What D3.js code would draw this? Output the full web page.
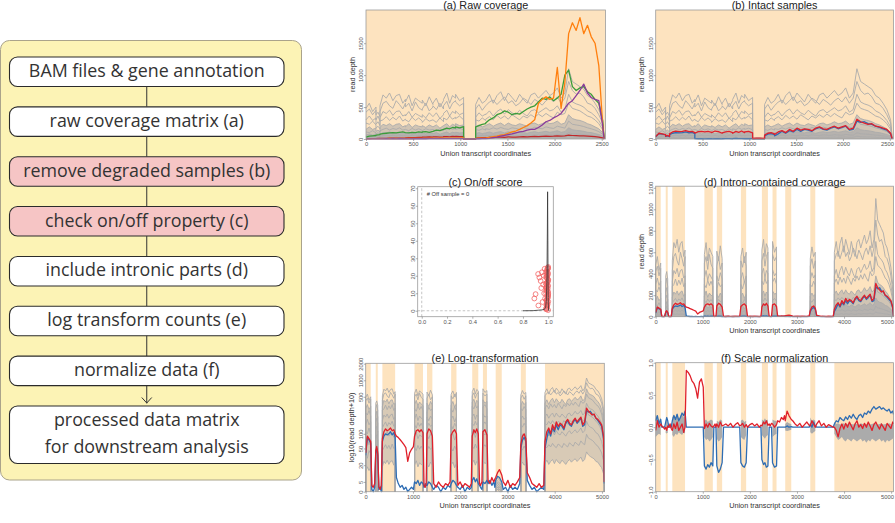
<!DOCTYPE html>
<html>
<head>
<meta charset="utf-8">
<script src="https://cdn.jsdelivr.net/npm/d3@7/dist/d3.min.js"></script>
<style>
body { margin: 0; background: #fff; }
svg { display: block; }
</style>
</head>
<body>
<svg id="fig" width="895" height="523"></svg>
<script>
// ---------- workflow (left box) ----------
const steps = [
  "BAM files & gene annotation",
  "raw coverage matrix (a)",
  "remove degraded samples (b)",
  "check on/off property (c)",
  "include intronic parts (d)",
  "log transform counts (e)",
  "normalize data (f)",
  ["processed data matrix", "for downstream analysis"]
];
const stepHighlight = [0, 0, 1, 1, 0, 0, 0, 0];

// ---------- gene model: exon bands in union transcript coordinates ----------
const bandStart = [0, 213, 353, 1034, 1298, 1809, 2255, 2481, 2751, 3283, 3794];
const bandEnd   = [106, 255, 623, 1213, 1411, 1921, 2383, 2566, 2879, 3389, 5050];

// sampled positions inside exons (union coords)
const exonX = [0, 35, 70, 106,
  213, 234, 255,
  353, 385, 420, 455, 490, 525, 560, 595, 623,
  1034, 1070, 1105, 1140, 1175, 1213,
  1298, 1335, 1372, 1411,
  1809, 1845, 1883, 1921,
  2255, 2290, 2320, 2350, 2383,
  2481, 2523, 2566,
  2751, 2790, 2830, 2879,
  3283, 3318, 3353, 3389,
  3794, 3834, 3874, 3914, 3954, 3994, 4034, 4074, 4114, 4154,
  4194, 4234, 4274, 4314, 4354, 4394, 4434, 4474, 4514, 4554,
  4594, 4634, 4674, 4714, 4754, 4794, 4834, 4874, 4914, 4954,
  4994, 5034, 5050];

// sampled positions inside introns (union coords)
const intronX = [130, 160, 190,
  280, 305, 330,
  650, 690, 730, 770, 810, 850, 890, 930, 970, 1010,
  1235, 1260, 1280,
  1440, 1490, 1540, 1590, 1640, 1690, 1740, 1785,
  1950, 2000, 2050, 2100, 2150, 2200, 2235,
  2410, 2430, 2460,
  2590, 2630, 2670, 2710, 2735,
  2910, 2960, 3010, 3060, 3110, 3160, 3210, 3260,
  3420, 3470, 3520, 3570, 3620, 3670, 3720, 3770];

// ---------- read depth of the bulk (gray) samples, at exonX ----------
const grayS1 = [480, 560, 430, 500, 380, 420, 350,
  520, 690, 640, 720, 600, 680, 700, 560, 620,
  580, 690, 520, 640, 600, 560, 610, 520, 660, 540, 560, 640, 500, 600,
  620, 720, 560, 680, 640, 700, 600, 650, 5, 8, 6, 4, 540, 650, 560, 600,
  600, 700, 560, 680, 740, 600, 720, 650, 580, 700,
  620, 560, 690, 720, 640, 700, 760, 680, 720, 800,
  640, 720, 1100, 900, 860, 820, 780, 680, 640, 560, 460, 300, 30];
const grayS2 = [420, 470, 380, 450, 300, 360, 280,
  430, 560, 590, 520, 480, 600, 540, 470, 560,
  500, 560, 440, 580, 490, 450, 470, 560, 440, 500, 520, 460, 560, 470,
  520, 590, 470, 560, 600, 580, 520, 560, 4, 6, 5, 3, 470, 540, 450, 520,
  520, 580, 610, 540, 600, 660, 560, 600, 520, 560,
  640, 600, 540, 620, 580, 530, 600, 640, 580, 660,
  560, 640, 900, 760, 700, 720, 660, 560, 540, 480, 380, 250, 20];
const grayS3 = [300, 360, 290, 330, 230, 270, 210,
  330, 430, 400, 450, 370, 430, 440, 360, 380,
  360, 430, 340, 400, 370, 340, 380, 330, 410, 350, 350, 410, 320, 380,
  400, 450, 360, 430, 400, 440, 380, 410, 3, 5, 4, 3, 340, 410, 360, 390,
  380, 440, 360, 430, 470, 390, 460, 410, 380, 450,
  400, 360, 440, 460, 410, 450, 490, 440, 460, 520,
  420, 460, 700, 580, 550, 530, 500, 440, 410, 360, 290, 190, 15];
const grayS4 = [250, 230, 280, 220, 170, 200, 160,
  280, 300, 350, 290, 340, 300, 360, 280, 310,
  300, 270, 340, 290, 330, 280, 260, 320, 280, 300, 300, 260, 330, 270,
  330, 300, 360, 310, 340, 320, 360, 300, 3, 4, 3, 2, 300, 280, 330, 290,
  310, 350, 300, 370, 320, 360, 310, 380, 340, 300,
  360, 330, 380, 340, 390, 350, 400, 360, 330, 420,
  380, 400, 560, 480, 460, 440, 400, 360, 340, 300, 240, 150, 10];
const grayS5 = [150, 190, 150, 170, 120, 140, 110,
  180, 230, 210, 240, 200, 230, 240, 190, 210,
  190, 240, 180, 220, 200, 190, 210, 180, 220, 190, 190, 220, 170, 210,
  210, 240, 190, 230, 210, 240, 210, 220, 2, 3, 2, 2, 190, 220, 190, 210,
  210, 240, 200, 230, 250, 210, 250, 220, 210, 240,
  220, 200, 240, 250, 220, 240, 270, 240, 250, 280,
  230, 250, 380, 320, 300, 290, 270, 240, 220, 190, 160, 100, 8];
const grayS6 = [110, 100, 130, 95, 80, 95, 75,
  130, 150, 170, 140, 165, 150, 175, 140, 150,
  150, 130, 165, 140, 160, 135, 130, 160, 140, 150, 150, 125, 160, 135,
  160, 145, 175, 150, 165, 150, 170, 145, 2, 2, 2, 1, 150, 135, 160, 140,
  160, 150, 175, 155, 180, 160, 150, 175, 165, 150,
  180, 165, 155, 185, 170, 160, 190, 175, 165, 200,
  185, 170, 280, 230, 220, 210, 195, 175, 160, 140, 115, 75, 6];
const grayS7 = [60, 80, 60, 75, 50, 60, 45,
  75, 100, 95, 110, 90, 100, 105, 85, 95,
  85, 105, 80, 95, 90, 85, 95, 80, 100, 85, 85, 100, 75, 95,
  95, 110, 85, 105, 95, 105, 95, 100, 1, 2, 1, 1, 85, 100, 85, 95,
  95, 110, 90, 105, 115, 95, 115, 100, 95, 110,
  100, 90, 105, 115, 100, 110, 120, 105, 115, 130,
  105, 115, 175, 145, 135, 130, 120, 105, 100, 85, 70, 45, 4];
const grayS8 = [35, 30, 45, 38, 25, 32, 22,
  45, 52, 60, 50, 58, 48, 62, 50, 54,
  52, 45, 58, 48, 56, 46, 45, 55, 48, 52, 52, 44, 56, 46,
  55, 50, 62, 52, 58, 52, 60, 50, 1, 1, 1, 0, 52, 46, 56, 48,
  56, 52, 60, 54, 64, 56, 52, 62, 58, 52,
  64, 58, 54, 66, 60, 56, 68, 62, 58, 72,
  64, 60, 98, 82, 78, 74, 68, 60, 56, 48, 40, 26, 2];
const grayS9 = [12, 18, 14, 17, 10, 14, 9,
  18, 25, 22, 27, 21, 25, 26, 20, 22,
  20, 26, 18, 23, 21, 20, 22, 18, 24, 20, 20, 24, 17, 22,
  22, 27, 20, 25, 22, 26, 22, 24, 0, 1, 0, 0, 20, 24, 20, 22,
  22, 27, 21, 25, 28, 22, 28, 24, 22, 27,
  24, 21, 25, 28, 24, 27, 29, 25, 28, 32,
  25, 28, 42, 36, 33, 31, 29, 25, 24, 20, 17, 11, 1];

// ---------- degraded samples shown in (a), at exonX ----------
const greenDeg = [30, 45, 50, 55, 60, 65, 70,
  75, 85, 90, 95, 100, 95, 105, 110, 100,
  100, 95, 105, 100, 110, 105, 110, 115, 105, 120, 120, 140, 130, 150,
  150, 170, 160, 180, 175, 190, 175, 195, 0, 0, 0, 0, 190, 210, 230, 240,
  250, 300, 330, 380, 400, 440, 420, 380, 400, 390,
  430, 470, 500, 520, 580, 640, 620, 660, 600, 640,
  700, 1000, 1080, 820, 760, 800, 820, 740, 700, 620, 560, 300, 10];
const orangeDeg = [5, 5, 6, 5, 6, 5, 6,
  6, 7, 6, 8, 7, 8, 7, 8, 8,
  8, 9, 8, 10, 9, 10, 10, 11, 10, 12, 12, 11, 13, 12,
  13, 14, 12, 15, 14, 15, 14, 16, 0, 0, 0, 0, 10, 12, 14, 15,
  15, 25, 35, 45, 60, 70, 90, 110, 125, 150,
  180, 210, 250, 300, 560, 620, 660, 620, 640, 1120,
  480, 880, 1650, 1820, 1700, 1900, 1650, 1780, 1600, 1500, 1150, 250, 0];
const purpleDeg = [2, 2, 3, 2, 3, 2, 3,
  3, 3, 4, 3, 4, 3, 4, 4, 3,
  4, 3, 4, 5, 4, 5, 5, 4, 5, 6, 5, 6, 5, 6,
  6, 5, 7, 6, 7, 7, 6, 7, 0, 0, 0, 0, 3, 4, 5, 5,
  5, 10, 20, 30, 45, 55, 70, 80, 95, 110,
  120, 140, 150, 150, 180, 220, 270, 290, 330, 360,
  400, 480, 560, 600, 680, 760, 860, 720, 650, 620, 600, 220, 0];
const redDeg = [5, 5, 8, 8, 8, 10, 10,
  10, 12, 12, 14, 14, 15, 15, 16, 16,
  18, 20, 22, 20, 24, 26, 28, 30, 32, 30, 32, 35, 30, 34,
  36, 38, 35, 40, 38, 40, 36, 38, 0, 0, 0, 0, 15, 18, 20, 22,
  20, 25, 22, 28, 30, 26, 32, 30, 28, 34,
  36, 32, 38, 40, 36, 42, 45, 40, 44, 50,
  46, 48, 60, 55, 52, 50, 48, 44, 40, 36, 30, 18, 0];

// ---------- two highlighted intact samples (red / blue) ----------
const redExon = [40, 90, 80, 70, 45, 55, 40,
  80, 110, 125, 115, 120, 130, 115, 120, 100,
  90, 115, 120, 110, 120, 105, 100, 125, 115, 90, 95, 110, 120, 100,
  90, 120, 105, 125, 100, 110, 120, 95, 8, 12, 15, 10, 60, 90, 100, 80,
  70, 110, 130, 100, 150, 120, 170, 140, 160, 150,
  130, 170, 190, 160, 150, 180, 200, 170, 190, 210,
  150, 170, 310, 270, 250, 230, 240, 200, 190, 170, 150, 90, 5];
const blueExon = [35, 85, 75, 65, 40, 50, 35,
  70, 90, 100, 95, 100, 110, 95, 105, 85,
  5, 4, 6, 3, 5, 4, 3, 5, 4, 2, 4, 6, 5, 3,
  6, 8, 5, 7, 4, 5, 4, 6, 6, 9, 8, 5, 50, 75, 85, 70,
  50, 80, 120, 90, 130, 110, 150, 120, 150, 140,
  120, 160, 180, 150, 140, 170, 190, 160, 180, 200,
  140, 150, 280, 260, 270, 240, 230, 200, 180, 160, 140, 80, 4];
const redIntron = [3, 2, 4, 2, 1, 3,
  90, 84, 76, 68, 60, 52, 25, 40, 48, 55,
  3, 2, 4, 4, 2, 5, 3, 2, 4, 3, 5,
  3, 5, 2, 4, 3, 2, 4, 4, 3, 5,
  6, 4, 8, 5, 7, 5, 3, 6, 2, 4, 3, 5, 8,
  12, 8, 4, 3, 2, 4, 2, 3];
const blueIntron = [1, 0, 2, 1, 2, 0,
  8, 4, 2, 3, 1, 2, 0, 1, 2, 1,
  2, 4, 3, 1, 3, 2, 0, 2, 1, 3, 2,
  2, 1, 3, 0, 2, 1, 2, 3, 2, 1,
  4, 6, 3, 5, 2, 1, 2, 0, 3, 1, 2, 1, 4,
  6, 3, 1, 2, 0, 1, 2, 1];

// ---------- (f) scale-normalized values ----------
const normRedExon = [-0.05, 0.1, 0.0, 0.05, 0.0, -0.05, 0.02,
  -0.05, 0.05, -0.02, 0.08, -0.05, 0.0, 0.05, -0.08, 0.0,
  -0.02, 0.05, 0.0, 0.06, 0.02, 0.0, 0.05, 0.0, 0.08, 0.02, 0.03, 0.06, 0.0, 0.04,
  0.02, 0.08, 0.05, 0.1, 0.03, 0.05, 0.0, 0.04, 0.1, 0.25, 0.18, 0.12, 0.02, 0.1, 0.05, 0.0,
  0.0, -0.05, -0.15, -0.02, 0.05, -0.03, 0.06, 0.0, 0.08, 0.02,
  -0.04, 0.05, 0.1, 0.0, 0.04, -0.02, 0.06, 0.0, 0.08, 0.02,
  -0.05, 0.04, 0.08, 0.02, -0.03, 0.05, 0.0, -0.05, 0.06, 0.02, -0.02, 0.08, 0.05];
const normBlueExon = [0.1, 0.18, 0.05, 0.12, 0.08, 0.15, 0.1,
  0.1, 0.18, 0.12, 0.2, 0.1, 0.15, 0.22, 0.18, 0.25,
  -0.6, -0.65, -0.58, -0.62, -0.55, -0.6, -0.6, -0.7, -0.65, -0.55, -0.55, -0.6, -0.62, -0.55,
  -0.5, -0.58, -0.55, -0.62, -0.6, -0.55, -0.62, -0.6, 0.0, 0.02, 0.0, 0.01, 0.05, 0.0, 0.08, 0.02,
  0.05, 0.1, 0.08, 0.15, 0.12, 0.1, 0.16, 0.12, 0.18, 0.14,
  0.2, 0.15, 0.12, 0.18, 0.2, 0.15, 0.22, 0.2, 0.25, 0.22,
  0.28, 0.32, 0.28, 0.3, 0.32, 0.28, 0.3, 0.27, 0.25, 0.28, 0.22, 0.25, 0.2];
const normGrayHi = [0.2, 0.15, 0.1, 0.15, 0.1, 0.12, 0.08,
  0.15, 0.2, 0.15, 0.22, 0.12, 0.18, 0.2, 0.15, 0.18,
  0.1, 0.12, 0.08, 0.1, 0.12, 0.1, 0.1, 0.08, 0.12, 0.1, 0.1, 0.12, 0.08, 0.1,
  0.12, 0.1, 0.14, 0.1, 0.12, 0.12, 0.1, 0.1, 0.05, 0.08, 0.06, 0.05, 0.15, 0.1, 0.12, 0.1,
  0.08, 0.05, 0.06, 0.04, 0.05, 0.06, 0.04, 0.05, 0.06, 0.05,
  0.04, 0.06, 0.05, 0.04, 0.06, 0.05, 0.04, 0.05, 0.06, 0.04,
  0.05, 0.06, 0.05, 0.04, 0.05, 0.06, 0.04, 0.05, 0.04, 0.06, 0.05, 0.04, 0.03];
const normGrayLo = [-0.15, -0.12, -0.1, -0.12, -0.08, -0.1, -0.08,
  -0.12, -0.15, -0.1, -0.12, -0.08, -0.1, -0.12, -0.08, -0.1,
  -0.15, -0.2, -0.18, -0.22, -0.2, -0.15, -0.18, -0.22, -0.2, -0.15, -0.15, -0.18, -0.2, -0.12,
  -0.12, -0.15, -0.18, -0.14, -0.12, -0.15, -0.12, -0.1, -0.05, -0.06, -0.05, -0.04, -0.08, -0.1, -0.08, -0.06,
  -0.1, -0.15, -0.2, -0.18, -0.15, -0.2, -0.22, -0.18, -0.2, -0.22,
  -0.18, -0.2, -0.22, -0.2, -0.18, -0.22, -0.2, -0.24, -0.2, -0.22,
  -0.18, -0.2, -0.22, -0.2, -0.18, -0.22, -0.2, -0.24, -0.2, -0.22, -0.2, -0.18, -0.15];
const normRedIntron = [0.02, 0.0, -0.03, 0.0, 0.05, -0.02,
  0.88, 0.85, 0.8, 0.72, 0.68, 0.6, 0.45, 0.7, 0.75, 0.62,
  0.02, 0.05, 0.0, 0.03, 0.05, 0.02, 0.06, 0.0, 0.04, 0.07, 0.02,
  0.0, 0.04, 0.06, 0.02, 0.05, 0.0, 0.03, 0.05, 0.02, 0.06,
  0.1, 0.08, 0.15, 0.12, 0.18, 0.1, 0.05, 0.02, 0.06, 0.0, 0.04, 0.08, 0.03,
  0.05, 0.1, 0.02, 0.06, 0.0, 0.04, 0.02, 0.0];
const normBlueIntron = [0, 0, 0, 0, 0, 0,
  0, 0, 0, 0, 0, 0, 0, 0, 0, 0,
  0, 0, 0, 0, 0, 0, 0, 0, 0, 0, 0,
  0, 0, 0, 0, 0, 0, 0, 0, 0, 0,
  0, 0, 0, 0, 0, 0, 0, 0, 0, 0, 0, 0, 0,
  0, 0, 0, 0, 0, 0, 0, 0];

// ---------- (c) on/off score ----------
const onoffX = [0.89, 0.90, 0.92, 0.922, 0.93, 0.94, 0.945, 0.95, 0.955, 0.96, 0.965, 0.968, 0.972, 0.975,
  0.985, 0.99, 0.995, 1.0, 0.988, 0.993, 0.998, 0.983, 0.991, 0.996, 1.0, 0.986, 0.994, 0.999, 0.989,
  0.992, 0.997, 0.984, 0.99, 0.995, 1.0, 0.987, 0.993, 0.998, 0.985, 0.991, 0.996, 0.999, 0.988, 0.994,
  0.982, 0.986, 0.99, 0.994, 0.998, 1.0, 0.984, 0.988, 0.992, 0.996, 1.0, 0.983,
  0.987, 0.991, 0.995, 0.999, 0.985, 0.989, 0.993, 0.997, 0.981, 0.992, 0.996, 0.999];
const onoffY = [7, 9.5, 21, 3, 19, 17, 13, 22, 5, 15, 20, 10, 24, 7,
  0.8, 2.1, 3.7, 5.2, 6.0, 7.9, 9.3, 10.1, 11.8, 12.6, 14.2, 15.0, 16.7, 17.4, 18.9,
  19.8, 21.1, 22.0, 23.4, 24.6, 25.0, 1.5, 4.4, 8.6, 13.3, 16.1, 20.4, 24.1, 3.0, 11.0,
  1.2, 3.1, 4.8, 6.9, 8.2, 9.7, 11.4, 12.9, 14.6, 16.3, 17.8, 19.3,
  20.6, 22.4, 23.8, 0.4, 5.9, 13.9, 18.2, 21.7, 15.6, 2.8, 7.4, 10.8];
const densX = [0.80, 0.88, 0.92, 0.95, 0.97, 0.98, 0.985, 0.99, 0.993, 0.995, 0.997, 0.999, 1.0, 1.002, 1.005];
const densY = [0, 0.05, 0.3, 0.5, 0.8, 2, 6, 20, 45, 68, 40, 12, 5, 1, 0];
const offSamples = 0;

// ---------- tick values ----------
const exonTicks = [0, 500, 1000, 1500, 2000, 2500];
const rawDepthTicks = [0, 500, 1000, 1500];
const unionTicks = [0, 1000, 2000, 3000, 4000, 5000];
const depthTicks = [0, 200, 400, 600, 800, 1000, 1200];
const logTicks = [0, 5, 20, 50, 100, 500, 1000, 2000];
const normTicks = [-1, -0.5, 0, 0.5, 1];
const scoreTicksX = [0, 0.2, 0.4, 0.6, 0.8, 1];
const scoreTicksY = [0, 10, 20, 30, 40, 50, 60, 70];

const grayLines = [grayS1, grayS2, grayS3, grayS4, grayS5, grayS6, grayS7, grayS8, grayS9];

// sanity check on hand-typed lengths
[...grayLines, greenDeg, orangeDeg, purpleDeg, redDeg, redExon, blueExon,
 normRedExon, normBlueExon, normGrayHi, normGrayLo].forEach((a, i) => {
  if (a.length !== exonX.length) throw new Error("exon series " + i + " length " + a.length);
});
[redIntron, blueIntron, normRedIntron, normBlueIntron].forEach((a, i) => {
  if (a.length !== intronX.length) throw new Error("intron series " + i + " length " + a.length);
});
if (onoffX.length !== onoffY.length) throw new Error("on/off points " + onoffX.length + "/" + onoffY.length);

// ================= drawing =================
const W = 895;
const svg = d3.select("#fig");
const FONT = "'Liberation Sans', Arial, Helvetica, sans-serif";
const BG = "#fde3bf";
const GRAY = "#ababab";
const COL = {red: "#e0202a", blue: "#2e6db4", green: "#3a9c3a", orange: "#ff7f0e",
             purple: "#8a3b9c", darkred: "#c0282a"};

// exon coordinate for a union position
const bandLen = bandStart.map((s, i) => bandEnd[i] - s);
const exonOffset = bandStart.map((s, i) => s - d3.sum(bandLen.slice(0, i)));
const bandOf = u => d3.bisectRight(bandStart, u) - 1;
const toExon = u => u - exonOffset[bandOf(u)];

function styleAxis(sel) {
  sel.select(".domain").remove();
  sel.attr("font-family", FONT).attr("font-size", 5.8);
  sel.selectAll(".tick line").attr("stroke", "#7a7a7a").attr("stroke-width", 0.6);
  sel.selectAll(".tick text").attr("fill", "#555");
}

function panel(o) {
  const x = d3.scaleLinear().domain(o.xd).range([o.x0, o.x1]);
  const y = d3.scaleLinear().domain(o.yd).range([o.y1, o.y0]);
  const root = svg.append("g");
  root.append("clipPath").attr("id", "clip-" + o.id)
    .append("rect").attr("x", o.x0 - 1).attr("y", o.y0 - 1)
    .attr("width", o.x1 - o.x0 + 2).attr("height", o.y1 - o.y0 + 2);
  const bg = root.append("g");
  if (o.bg === "full") {
    bg.append("rect").attr("x", o.x0).attr("y", o.y0)
      .attr("width", o.x1 - o.x0).attr("height", o.y1 - o.y0).attr("fill", BG);
  } else if (o.bg === "bands") {
    bg.selectAll("rect").data(bandStart).join("rect")
      .attr("x", d => x(d)).attr("y", o.y0)
      .attr("width", (d, i) => x(bandEnd[i]) - x(d)).attr("height", o.y1 - o.y0)
      .attr("fill", BG);
  }
  const plot = root.append("g").attr("clip-path", `url(#clip-${o.id})`);
  const frame = root.append("g");
  frame.append("rect").attr("x", o.x0).attr("y", o.y0)
    .attr("width", o.x1 - o.x0).attr("height", o.y1 - o.y0)
    .attr("fill", "none").attr("stroke", "#9c9c9c").attr("stroke-width", 0.8);

  const gx = frame.append("g").attr("transform", `translate(0,${o.y1})`)
    .call(d3.axisBottom(x).tickValues(o.xt).tickSize(2).tickPadding(0.8)
      .tickFormat(o.xf || (d => d)))
    .call(styleAxis);
  // keep the last label inside the page
  gx.selectAll(".tick text").each(function () {
    const r = this.getBoundingClientRect();
    if (r.right > W - 1) d3.select(this).attr("dx", -(r.right - (W - 1)));
  });
  const gy = frame.append("g").attr("transform", `translate(${o.x0},0)`)
    .call(d3.axisLeft(y).tickValues(o.yt).tickSize(2).tickFormat(o.yf || (d => d)))
    .call(styleAxis);
  gy.selectAll(".tick text").attr("transform", "rotate(-90)")
    .attr("x", 0).attr("y", -3).attr("dy", 0).attr("text-anchor", "middle");

  const cx = (o.x0 + o.x1) / 2;
  frame.append("text").attr("x", cx).attr("y", o.titleY).attr("text-anchor", "middle")
    .attr("font-family", FONT).attr("font-size", 10.8).attr("fill", "#222").text(o.title);
  if (o.xlab) frame.append("text").attr("x", cx).attr("y", o.y1 + 16.5)
    .attr("text-anchor", "middle").attr("font-family", FONT).attr("font-size", 7.3)
    .attr("fill", "#333").text(o.xlab);
  if (o.ylab) frame.append("text")
    .attr("transform", `translate(${o.x0 - 11.5},${(o.y0 + o.y1) / 2}) rotate(-90)`)
    .attr("text-anchor", "middle").attr("font-family", FONT).attr("font-size", 7.3)
    .attr("fill", "#333").text(o.ylab);
  return {x, y, plot, frame};
}

function drawPath(g, pts, sx, sy, color, w) {
  g.append("path").datum(pts)
    .attr("d", d3.line().x(d => sx(d[0])).y(d => sy(d[1])))
    .attr("fill", "none").attr("stroke", color).attr("stroke-width", w)
    .attr("stroke-linejoin", "round");
}

function drawBand(g, pts, sx, sy, color, op) {
  g.append("path").datum(pts)
    .attr("d", d3.area().x(d => sx(d[0])).y0(d => sy(d[1])).y1(d => sy(d[2])))
    .attr("fill", color).attr("opacity", op);
}

// points along exon coordinates (for a, b)
const exonPts = vals => exonX.map((u, i) => [toExon(u), vals[i]]);
const exonBand = (lo, hi) => exonX.map((u, i) => [toExon(u), lo ? lo[i] : 0, hi[i]]);
// one segment per exon band, dropping to zero at band edges (for d, e)
const bandSegs = vals => bandStart.map((s, b) => {
  const pts = exonX.map((u, i) => [u, vals[i]]).filter(p => bandOf(p[0]) === b);
  return [[s, 0], ...pts, [bandEnd[b], 0]];
});
const bandAreas = (lo, hi) => bandStart.map((s, b) =>
  exonX.map((u, i) => [u, lo ? lo[i] : 0, hi[i]]).filter(p => bandOf(p[0]) === b));
// exon + intron samples in union order
const unionPts = (ev, iv) => exonX.map((u, i) => [u, ev[i]])
  .concat(intronX.map((u, i) => [u, iv[i]])).sort((a, b) => a[0] - b[0]);

// ---------- (a) raw coverage ----------
const pa = panel({id: "a", x0: 366, x1: 605.5, y0: 10, y1: 139, xd: [0, 2540], yd: [0, 2020],
  xt: exonTicks, yt: rawDepthTicks, bg: "full", title: "(a) Raw coverage", titleY: 9,
  xlab: "Union transcript coordinates", ylab: "read depth"});
drawBand(pa.plot, exonBand(null, grayS5), pa.x, pa.y, GRAY, 0.55);
drawBand(pa.plot, exonBand(null, grayS7), pa.x, pa.y, GRAY, 0.7);
grayLines.forEach(s => drawPath(pa.plot, exonPts(s), pa.x, pa.y, GRAY, 0.9));
drawPath(pa.plot, exonPts(redDeg), pa.x, pa.y, COL.darkred, 1.2);
drawPath(pa.plot, exonPts(greenDeg), pa.x, pa.y, COL.green, 1.3);
drawPath(pa.plot, exonPts(orangeDeg), pa.x, pa.y, COL.orange, 1.3);
drawPath(pa.plot, exonPts(purpleDeg), pa.x, pa.y, COL.purple, 1.3);

// ---------- (b) intact samples ----------
const pb = panel({id: "b", x0: 655.7, x1: 893.5, y0: 10, y1: 139, xd: [0, 2540], yd: [0, 2020],
  xt: exonTicks, yt: rawDepthTicks, bg: "full", title: "(b) Intact samples", titleY: 9,
  xlab: "Union transcript coordinates", ylab: "read depth"});
drawBand(pb.plot, exonBand(null, grayS5), pb.x, pb.y, GRAY, 0.55);
drawBand(pb.plot, exonBand(null, grayS7), pb.x, pb.y, GRAY, 0.7);
grayLines.forEach(s => drawPath(pb.plot, exonPts(s), pb.x, pb.y, GRAY, 0.9));
drawPath(pb.plot, exonPts(blueExon), pb.x, pb.y, COL.blue, 1.3);
drawPath(pb.plot, exonPts(redExon), pb.x, pb.y, COL.red, 1.3);

// ---------- (c) on/off score ----------
const pc = panel({id: "c", x0: 417.7, x1: 553.3, y0: 186.7, y1: 316.7, xd: [-0.032, 1.04],
  yd: [-3.4, 70.9], xt: scoreTicksX, yt: scoreTicksY, xf: d3.format(".1f"),
  bg: "none", title: "(c) On/off score", titleY: 185.5});
pc.plot.append("line").attr("x1", pc.x(0)).attr("x2", pc.x(0))
  .attr("y1", pc.y(-3.4)).attr("y2", pc.y(70.9))
  .attr("stroke", "#b5b5b5").attr("stroke-dasharray", "2.5,2").attr("stroke-width", 0.8);
pc.plot.append("line").attr("x1", pc.x(-0.032)).attr("x2", pc.x(1.04))
  .attr("y1", pc.y(0)).attr("y2", pc.y(0))
  .attr("stroke", "#b5b5b5").attr("stroke-dasharray", "2.5,2").attr("stroke-width", 0.8);
pc.plot.selectAll("circle").data(onoffX).join("circle")
  .attr("cx", d => pc.x(d)).attr("cy", (d, i) => pc.y(onoffY[i])).attr("r", 2.4)
  .attr("fill", "none").attr("stroke", "#f26464").attr("stroke-width", 0.8);
drawPath(pc.plot, densX.map((v, i) => [v, densY[i]]), pc.x, pc.y, "#333", 0.8);
pc.frame.append("text").attr("x", 426.7).attr("y", 195.7).attr("font-family", FONT)
  .attr("font-size", 5.8).attr("fill", "#333").text("# Off sample = " + offSamples);

// ---------- (d) intron-contained coverage ----------
const pd = panel({id: "d", x0: 655.7, x1: 893.5, y0: 186.2, y1: 316.7, xd: [0, 5050], yd: [0, 1215],
  xt: unionTicks, yt: depthTicks, bg: "bands", title: "(d) Intron-contained coverage",
  titleY: 185.5, xlab: "Union transcript coordinates", ylab: "read depth"});
bandAreas(null, grayS5).forEach(seg => drawBand(pd.plot, seg, pd.x, pd.y, GRAY, 0.55));
bandAreas(null, grayS7).forEach(seg => drawBand(pd.plot, seg, pd.x, pd.y, GRAY, 0.7));
grayLines.forEach(s => bandSegs(s).forEach(seg => drawPath(pd.plot, seg, pd.x, pd.y, GRAY, 0.9)));
drawPath(pd.plot, unionPts(blueExon, blueIntron), pd.x, pd.y, COL.blue, 1.3);
drawPath(pd.plot, unionPts(redExon, redIntron), pd.x, pd.y, COL.red, 1.3);

// ---------- (e) log transformation ----------
const lg = v => Math.log10(v + 10);
const pe = panel({id: "e", x0: 365.7, x1: 604.3, y0: 363.3, y1: 491.7, xd: [0, 5050], yd: [1, 3.31],
  xt: unionTicks, yt: logTicks.map(lg), yf: (d, i) => logTicks[i], bg: "bands",
  title: "(e) Log-transformation", titleY: 361.5, xlab: "Union transcript coordinates",
  ylab: "log10(read depth+10)"});
const yLog = v => pe.y(lg(v));
bandAreas(grayS9, grayS3).forEach(seg => drawBand(pe.plot, seg, pe.x, yLog, GRAY, 0.45));
grayLines.forEach(s => bandSegs(s).forEach(seg => drawPath(pe.plot, seg, pe.x, yLog, GRAY, 0.9)));
drawPath(pe.plot, unionPts(blueExon, blueIntron), pe.x, yLog, COL.blue, 1.3);
drawPath(pe.plot, unionPts(redExon, redIntron), pe.x, yLog, COL.red, 1.3);

// ---------- (f) scale normalization ----------
const pf = panel({id: "f", x0: 655.7, x1: 893.5, y0: 362.7, y1: 491.7, xd: [0, 5050], yd: [-1, 1],
  xt: unionTicks, yt: normTicks, yf: d3.format(".1f"), bg: "bands",
  title: "(f) Scale normalization", titleY: 361.5, xlab: "Union transcript coordinates"});
bandAreas(normGrayLo, normGrayHi).forEach(seg => drawBand(pf.plot, seg, pf.x, pf.y, GRAY, 1));
drawPath(pf.plot, unionPts(normBlueExon, normBlueIntron), pf.x, pf.y, COL.blue, 1.3);
drawPath(pf.plot, unionPts(normRedExon, normRedIntron), pf.x, pf.y, COL.red, 1.3);

// ================= workflow box =================
const FC_FONT = "'Open Sans', 'DejaVu Sans', sans-serif";
const fc = svg.append("g");
fc.append("rect").attr("x", 0.5).attr("y", 40.5).attr("width", 301).attr("height", 439.5)
  .attr("rx", 9).attr("fill", "#fcf3b5").attr("stroke", "#aaa38a").attr("stroke-width", 1);

const boxX0 = 9.5, boxX1 = 284, boxH = 29.5, lastH = 57.5;
const boxTop = d3.scaleLinear().domain([0, 7]).range([57, 406]);
const midX = (boxX0 + boxX1) / 2;

// fit the font so the first label spans its measured width
const probe = fc.append("text").attr("font-family", FC_FONT).attr("font-size", 16).text(steps[0]);
const fcSize = 16 * 236 / probe.node().getComputedTextLength();
probe.remove();

steps.forEach((s, i) => {
  const top = boxTop(i);
  const h = i === steps.length - 1 ? lastH : boxH;
  if (i > 0) {
    fc.append("line").attr("x1", midX).attr("x2", midX)
      .attr("y1", boxTop(i - 1) + boxH).attr("y2", top - (i === steps.length - 1 ? 2.5 : 0))
      .attr("stroke", "#333").attr("stroke-width", 1);
  }
  fc.append("rect").attr("x", boxX0).attr("y", top).attr("width", boxX1 - boxX0).attr("height", h)
    .attr("rx", 8).attr("fill", stepHighlight[i] ? "#f6c5c5" : "#fff")
    .attr("stroke", "#2b2b2b").attr("stroke-width", 1.1);
  const lines = Array.isArray(s) ? s : [s];
  lines.forEach((t, k) => {
    fc.append("text").attr("x", midX).attr("y", top + 20 + k * 26.7)
      .attr("text-anchor", "middle").attr("font-family", FC_FONT)
      .attr("font-size", fcSize).attr("fill", "#333").text(t);
  });
});
// arrow head into the final box
const tipY = boxTop(7) - 3;
fc.append("path")
  .attr("d", d3.line()([[midX - 5, tipY - 5.5], [midX, tipY], [midX + 5, tipY - 5.5]]))
  .attr("fill", "none").attr("stroke", "#333").attr("stroke-width", 1);
</script>
</body>
</html>
